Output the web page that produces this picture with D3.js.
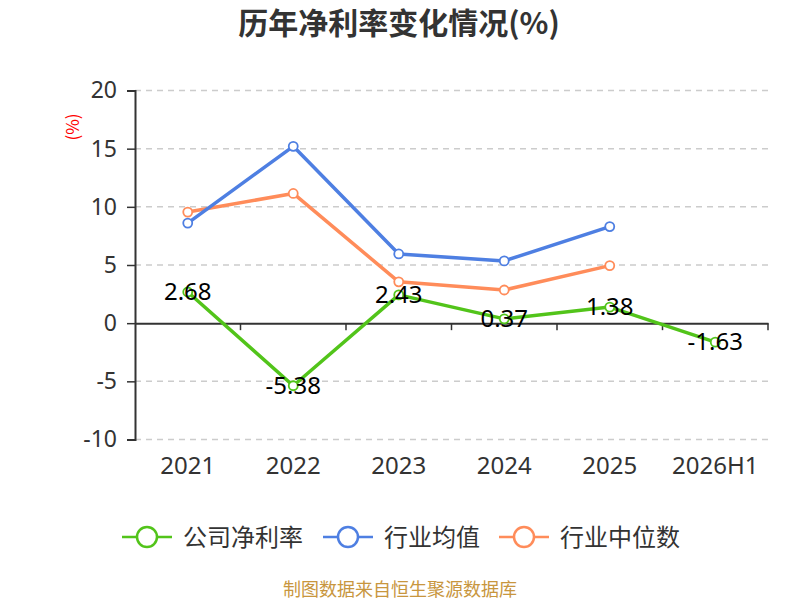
<!DOCTYPE html>
<html>
<head>
<meta charset="utf-8">
<script src="https://cdn.jsdelivr.net/npm/d3@7"></script>
<style>
  body { margin: 0; background: #fff; }
  svg { font-family: "Noto Sans CJK SC", "Noto Sans", sans-serif; }
</style>
</head>
<body>
<svg width="800" height="600"></svg>
<script>
// Chart data
const years = ["2021", "2022", "2023", "2024", "2025", "2026H1"];
const company = [2.68, -5.38, 2.43, 0.37, 1.38, -1.63];
const industryAvg = [8.6, 15.2, 5.95, 5.35, 8.3, null];
const industryMid = [9.55, 11.15, 3.55, 2.85, 4.95, null];
const yTicks = [-10, -5, 0, 5, 10, 15, 20];

const seriesList = [
  { name: "公司净利率", values: company, color: "#52c41a" },
  { name: "行业均值", values: industryAvg, color: "#4e7fe2" },
  { name: "行业中位数", values: industryMid, color: "#ff8c5a" }
];

const svg = d3.select("svg");
const plotLeft = 135, plotRight = 768, plotTop = 90.5, plotBottom = 439.5;
const numFont = "'Noto Sans', sans-serif";

// Scales
const x = d3.scaleBand().domain(years).range([plotLeft, plotRight]);
const y = d3.scaleLinear().domain([-10, 20]).range([plotBottom, plotTop]);

// Title
svg.append("text")
  .attr("x", 399).attr("y", 34)
  .attr("text-anchor", "middle")
  .attr("font-size", 30).attr("font-weight", "bold")
  .attr("fill", "#333")
  .text("历年净利率变化情况(%)");

// Unit label
svg.append("text")
  .attr("transform", "translate(79,127) rotate(-90)")
  .attr("text-anchor", "middle")
  .attr("font-size", 17).attr("fill", "red")
  .text("(%)");

// Grid lines
svg.append("g")
  .selectAll("line")
  .data(yTicks.filter(t => t !== 0))
  .enter()
  .append("line")
  .attr("x1", plotLeft).attr("x2", plotRight)
  .attr("y1", d => y(d)).attr("y2", d => y(d))
  .attr("stroke", "#ccc").attr("stroke-width", 1.5)
  .attr("stroke-dasharray", "6,5");

// Y axis
const yAxis = svg.append("g")
  .attr("transform", `translate(${plotLeft},0)`)
  .call(d3.axisLeft(y).tickValues(yTicks).tickSize(8).tickPadding(10)
    .tickFormat(d => String(d)));
yAxis.select(".domain").attr("stroke", "#333").attr("stroke-width", 2);
yAxis.selectAll(".tick line").attr("stroke", "#333").attr("stroke-width", 1.5);
yAxis.selectAll(".tick text").attr("font-size", 23).attr("fill", "#333")
  .attr("font-family", numFont);

// X axis along zero
const xAxis = svg.append("g")
  .attr("transform", `translate(0,${y(0)})`)
  .call(d3.axisBottom(x).tickSize(0).tickFormat(""));
xAxis.select(".domain").attr("stroke", "#333").attr("stroke-width", 2);

// Boundary ticks
svg.append("g")
  .selectAll("line")
  .data(years)
  .enter()
  .append("line")
  .attr("x1", d => x(d) + x.step())
  .attr("x2", d => x(d) + x.step())
  .attr("y1", y(0)).attr("y2", y(0) + 7)
  .attr("stroke", "#333").attr("stroke-width", 1.5);

// X labels
svg.append("g")
  .selectAll("text")
  .data(years)
  .enter()
  .append("text")
  .attr("x", d => x(d) + x.bandwidth() / 2)
  .attr("y", 474)
  .attr("text-anchor", "middle")
  .attr("font-size", 24).attr("fill", "#333")
  .attr("font-family", numFont)
  .text(d => d);

// Lines
const line = d3.line()
  .defined(d => d.v !== null)
  .x(d => x(d.k) + x.bandwidth() / 2)
  .y(d => y(d.v));

// draw medians and averages first, company on top
[seriesList[2], seriesList[1], seriesList[0]].forEach(s => {
  const pts = years.map((k, i) => ({ k, v: s.values[i] }));
  svg.append("path")
    .datum(pts)
    .attr("d", line)
    .attr("fill", "none")
    .attr("stroke", s.color)
    .attr("stroke-width", 3.5)
    .attr("stroke-linejoin", "round");
  svg.append("g")
    .selectAll("circle")
    .data(pts.filter(p => p.v !== null))
    .enter()
    .append("circle")
    .attr("cx", d => x(d.k) + x.bandwidth() / 2)
    .attr("cy", d => y(d.v))
    .attr("r", 4.5)
    .attr("fill", "#fff")
    .attr("stroke", s.color)
    .attr("stroke-width", 1.8);
});

// Data labels for company series
svg.append("g")
  .selectAll("text")
  .data(years.map((k, i) => ({ k, v: company[i] })))
  .enter()
  .append("text")
  .attr("x", d => x(d.k) + x.bandwidth() / 2)
  .attr("y", d => y(d.v) + 8)
  .attr("text-anchor", "middle")
  .attr("font-size", 24).attr("fill", "#000")
  .attr("font-family", numFont)
  .text(d => d.v);

// Legend
const legendX = [122, 323, 499];
const legend = svg.append("g");
seriesList.forEach((s, i) => {
  const g = legend.append("g").attr("transform", `translate(${legendX[i]},537)`);
  g.append("line").attr("x1", 0).attr("x2", 50)
    .attr("stroke", s.color).attr("stroke-width", 2.5);
  g.append("circle").attr("cx", 25).attr("r", 10)
    .attr("fill", "#fff").attr("stroke", s.color).attr("stroke-width", 2.5);
  g.append("text").attr("x", 61).attr("y", 9)
    .attr("font-size", 24).attr("fill", "#333")
    .text(s.name);
});

// Footer
svg.append("text")
  .attr("x", 400).attr("y", 596)
  .attr("text-anchor", "middle")
  .attr("font-size", 18).attr("fill", "#c8963e")
  .text("制图数据来自恒生聚源数据库");
</script>
</body>
</html>
